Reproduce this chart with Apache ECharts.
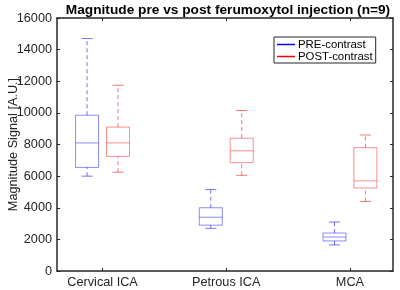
<!DOCTYPE html>
<html>
<head>
<meta charset="utf-8">
<script src="https://cdn.jsdelivr.net/npm/echarts@6/dist/echarts.min.js"></script>
<style>
  html, body { margin: 0; padding: 0; background: #fff; }
  #chart { width: 400px; height: 290px; }
</style>
</head>
<body>
<div id="chart"></div>
<script>
// groups on the x axis
var categories = ['Cervical ICA', 'Petrous ICA', 'MCA'];
var yTicks = [0, 2000, 4000, 6000, 8000, 10000, 12000, 14000, 16000];

// box stats: lower whisker, Q1, median, Q3, upper whisker
var preLower  = [6000, 2700, 1650];
var preQ1     = [6550, 2900, 1900];
var preMedian = [8100, 3400, 2150];
var preQ3     = [9850, 4000, 2400];
var preUpper  = [14700, 5150, 3100];

var postLower  = [6250, 6050, 4400];
var postQ1     = [7250, 6850, 5250];
var postMedian = [8100, 7600, 5700];
var postQ3     = [9100, 8400, 7800];
var postUpper  = [11750, 10150, 8600];

function boxData(lo, q1, med, q3, hi, shift) {
  var out = [];
  for (var i = 0; i < categories.length; i++) {
    out.push([i + 1 + shift, lo[i], q1[i], med[i], q3[i], hi[i]]);
  }
  return out;
}

function makeRender(boxColor, whiskColor) {
  return function (params, api) {
    var x = api.value(0);
    var halfBox = 0.093, halfCap = 0.045;
    var pLo = api.coord([x, api.value(1)]);
    var pQ1 = api.coord([x, api.value(2)]);
    var pMed = api.coord([x, api.value(3)]);
    var pQ3 = api.coord([x, api.value(4)]);
    var pHi = api.coord([x, api.value(5)]);
    var xl = api.coord([x - halfBox, 0])[0];
    var xr = api.coord([x + halfBox, 0])[0];
    var cl = api.coord([x - halfCap, 0])[0];
    var cr = api.coord([x + halfCap, 0])[0];
    var solid = { stroke: boxColor, lineWidth: 1, fill: null };
    var dash = { stroke: whiskColor, lineWidth: 1, lineDash: [4, 3] };
    var cap = { stroke: whiskColor, lineWidth: 1 };
    return {
      type: 'group',
      children: [
        { type: 'line', shape: { x1: pLo[0], y1: pLo[1], x2: pQ1[0], y2: pQ1[1] }, style: dash },
        { type: 'line', shape: { x1: pQ3[0], y1: pQ3[1], x2: pHi[0], y2: pHi[1] }, style: dash },
        { type: 'line', shape: { x1: cl, y1: pLo[1], x2: cr, y2: pLo[1] }, style: cap },
        { type: 'line', shape: { x1: cl, y1: pHi[1], x2: cr, y2: pHi[1] }, style: cap },
        { type: 'rect', shape: { x: xl, y: pQ3[1], width: xr - xl, height: pQ1[1] - pQ3[1] }, style: solid },
        { type: 'line', shape: { x1: xl, y1: pMed[1], x2: xr, y2: pMed[1] }, style: solid }
      ]
    };
  };
}

var axisCol = '#262626';
var myChart = echarts.init(document.getElementById('chart'));
var option = {
  animation: false,
  title: {
    text: 'Magnitude pre vs post ferumoxytol injection (n=9)',
    left: 223, textAlign: 'center', top: -2,
    textStyle: { fontSize: 13.7, fontWeight: 'bold', color: '#000', fontFamily: 'Liberation Sans' }
  },
  legend: {
    orient: 'vertical',
    left: 274, top: 37,
    backgroundColor: '#fff',
    borderColor: '#262626', borderWidth: 1,
    padding: [2, 3, 1, 3],
    itemGap: 1,
    itemWidth: 18, itemHeight: 1.5,
    icon: 'rect',
    textStyle: { fontSize: 11.4, color: '#000', fontFamily: 'Liberation Sans', padding: [0, 0, 0, -2] },
    data: ['PRE-contrast', 'POST-contrast']
  },
  grid: { left: 57, right: 7, top: 18, bottom: 19, outerBoundsMode: 'none' },
  xAxis: [{
    type: 'value', min: 0.632, max: 3.348, position: 'bottom',
    splitLine: { show: false },
    axisLine: { onZero: false, lineStyle: { color: axisCol, width: 1.5 } },
    axisTick: { inside: true, length: 3, customValues: [1, 2, 3], lineStyle: { color: axisCol } },
    axisLabel: {
      customValues: [1, 2, 3], margin: 5,
      formatter: function (v) { return categories[Math.round(v) - 1]; },
      fontSize: 12.7, color: '#262626', fontFamily: 'Liberation Sans'
    }
  }, {
    type: 'value', min: 0.632, max: 3.348, position: 'top',
    splitLine: { show: false },
    axisLine: { onZero: false, lineStyle: { color: axisCol, width: 1.5 } },
    axisTick: { inside: true, length: 3, customValues: [1, 2, 3], lineStyle: { color: axisCol } },
    axisLabel: { show: false }
  }],
  yAxis: [{
    type: 'value', min: 0, max: 16000, interval: 2000,
    name: 'Magnitude Signal [A.U.]', nameLocation: 'middle', nameGap: 37,
    nameMoveOverlap: false,
    nameTextStyle: { fontSize: 12.7, color: '#262626', fontFamily: 'Liberation Sans' },
    splitLine: { show: false },
    axisLine: { show: true, lineStyle: { color: axisCol, width: 1.5 } },
    axisTick: { show: true, inside: true, length: 3, lineStyle: { color: axisCol } },
    axisLabel: {
      margin: 5, fontSize: 12.7, color: '#262626', fontFamily: 'Liberation Sans',
      customValues: yTicks,
      formatter: function (v) { return String(v); }
    }
  }, {
    type: 'value', min: 0, max: 16000, interval: 2000, position: 'right',
    splitLine: { show: false },
    axisLine: { show: true, lineStyle: { color: axisCol, width: 1.5 } },
    axisTick: { show: true, inside: true, length: 3, lineStyle: { color: axisCol } },
    axisLabel: { show: false }
  }],
  series: [{
    name: 'PRE-contrast',
    type: 'custom',
    xAxisIndex: 0, yAxisIndex: 0,
    itemStyle: { color: '#0000ff' },
    renderItem: makeRender('rgba(0,0,255,0.45)', 'rgba(0,0,255,0.55)'),
    encode: { x: 0, y: [1, 5] },
    data: boxData(preLower, preQ1, preMedian, preQ3, preUpper, -0.125)
  }, {
    name: 'POST-contrast',
    type: 'custom',
    xAxisIndex: 0, yAxisIndex: 0,
    itemStyle: { color: '#ff0000' },
    renderItem: makeRender('rgba(255,0,0,0.45)', 'rgba(255,0,0,0.55)'),
    encode: { x: 0, y: [1, 5] },
    data: boxData(postLower, postQ1, postMedian, postQ3, postUpper, 0.125)
  }]
};
myChart.setOption(option);
</script>
</body>
</html>
